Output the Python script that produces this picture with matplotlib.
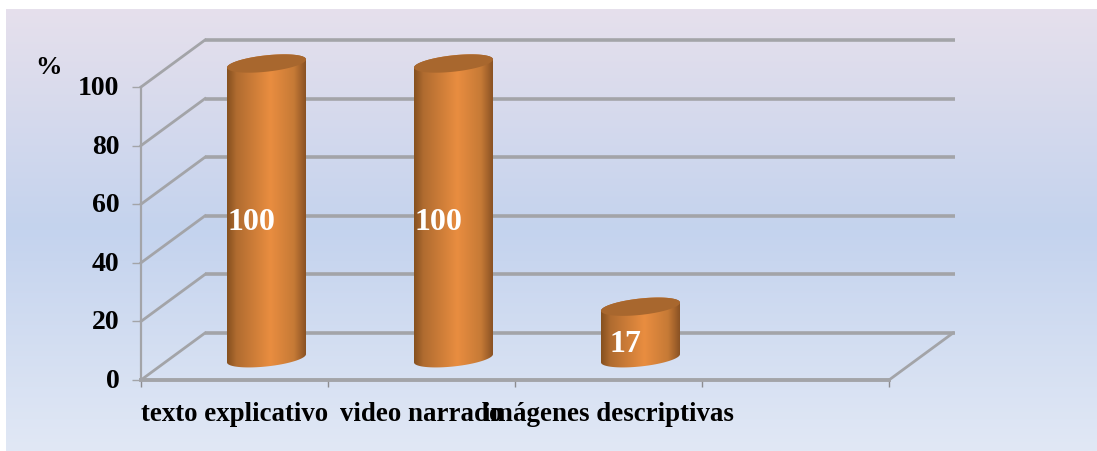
import matplotlib
matplotlib.use("Agg")
import matplotlib.pyplot as plt
import numpy as np
from matplotlib.colors import LinearSegmentedColormap
from matplotlib.patches import PathPatch, Polygon
from matplotlib.path import Path
from matplotlib.transforms import ScaledTranslation

plt.rcParams["font.family"] = ["Liberation Serif", "DejaVu Serif"]
plt.rcParams["font.weight"] = "bold"

categories = ["texto explicativo", "video narrado", "imágenes descriptivas"]
values = [100, 100, 17]
value_labels = ["100", "100", "17"]
y_ticks = [0, 20, 40, 60, 80, 100]
n_slots = 4

W, H = 1097, 451
GRID = "#a3a4a8"

# depth of the fake 3d box, in data units
DX = 64 / 187
DY = 47 / 2.93
# cylinder shape, in data units
HALF_W = 39.5 / 187
ELL_B = 2.8
ELL_K = 1.4

fig = plt.figure(figsize=(W / 100, H / 100), dpi=100, facecolor="white")

# background panel
bg = fig.add_axes([6 / W, 0, 1 - 6 / W, 1 - 9 / H])
bg_cmap = LinearSegmentedColormap.from_list(
    "bg", [(0, "#e6e0ec"), (0.5, "#c4d3ee"), (1, "#e1e8f5")]
)
bg.imshow(np.linspace(0, 1, 256)[:, None], cmap=bg_cmap, aspect="auto")
bg.axis("off")

ax = fig.add_axes([141 / W, (H - 380) / H, (889 - 141) / W, (380 - 87) / H])
ax.patch.set_alpha(0)
ax.set_zorder(2)

# back wall and floor
for v in y_ticks:
    ax.plot([0, DX], [v, v + DY], color=GRID, lw=2.0, clip_on=False, zorder=1)
    ax.plot([DX, n_slots + DX + 0.01], [v + DY, v + DY], color=GRID, lw=2.6,
            clip_on=False, zorder=1, solid_capstyle="butt")
ax.plot([n_slots, n_slots + DX], [0, DY], color=GRID, lw=2.0, clip_on=False, zorder=1)


def ellipse_pts(cx, cy, t):
    return np.column_stack(
        [cx + HALF_W * np.cos(t), cy + ELL_B * np.sin(t) + ELL_K * np.cos(t)]
    )


cyl_cmap = LinearSegmentedColormap.from_list(
    "cyl",
    [(0, "#85501f"), (0.12, "#b06c30"), (0.55, "#e98d40"), (0.85, "#c67a36"), (1, "#8a5224")],
)

for i, val in enumerate(values):
    cx = i + 0.5 + DX / 2
    y0 = DY / 2 - 0.6
    y1 = DY / 2 + val
    # side of the cylinder
    body = np.vstack(
        [
            ellipse_pts(cx, y0, np.linspace(np.pi, 2 * np.pi, 60)),
            ellipse_pts(cx, y1, np.linspace(0, np.pi, 60)),
        ]
    )
    clip = PathPatch(Path(np.vstack([body, body[0]])), transform=ax.transData,
                     fc="none", ec="none")
    ax.add_patch(clip)
    img = ax.imshow(
        np.linspace(0, 1, 256)[None, :],
        cmap=cyl_cmap,
        aspect="auto",
        extent=[cx - HALF_W, cx + HALF_W, y0 - 5, y1 + 5],
        zorder=3,
        interpolation="bilinear",
    )
    img.set_clip_path(clip)
    img.set_clip_box(fig.bbox)
    # top of the cylinder
    ax.add_patch(
        Polygon(ellipse_pts(cx, y1, np.linspace(0, 2 * np.pi, 120)),
                closed=True, fc="#a8672e", ec="none", zorder=4, clip_on=False)
    )
    ax.annotate(
        value_labels[i], (cx, DY / 2 + val / 2), xytext=(-11, -9), textcoords="offset points",
        ha="center", va="center", color="white", fontsize=23, fontweight="bold", zorder=5,
    )

ax.set_xlim(0, n_slots)
ax.set_ylim(0, 100)

for side in ["top", "right"]:
    ax.spines[side].set_visible(False)
ax.spines["left"].set_color(GRID)
ax.spines["left"].set_linewidth(1.6)
ax.spines["bottom"].set_color(GRID)
ax.spines["bottom"].set_linewidth(2.8)

ax.set_yticks(y_ticks)
ax.tick_params(axis="y", length=6.5, width=1, color=GRID, pad=9, labelsize=20)
shift_up = ScaledTranslation(0, 1.5 / 100, fig.dpi_scale_trans)
for lab in ax.get_yticklabels():
    lab.set_transform(lab.get_transform() + shift_up)
ax.set_xticks(range(n_slots + 1))
ax.set_xticklabels([])
ax.tick_params(axis="x", which="major", length=5, width=1, color="#8c8c90")
ax.set_xticks(np.arange(len(categories)) + 0.5, categories, minor=True)
ax.tick_params(axis="x", which="minor", length=0, pad=16, labelsize=19.4)

fig.text(48 / W, 1 - 68 / H, "%", ha="center", va="center", fontsize=19, fontweight="bold")

fig.savefig("out.png", dpi=100)
